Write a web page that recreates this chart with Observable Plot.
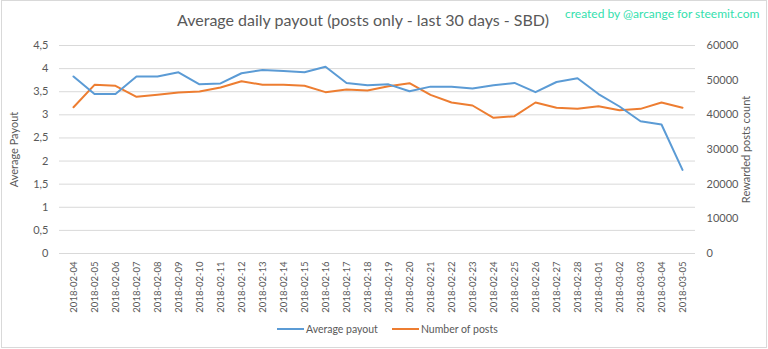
<!DOCTYPE html>
<html>
<head>
<meta charset="utf-8">
<script src="https://cdn.jsdelivr.net/npm/d3@7"></script>
<script src="https://cdn.jsdelivr.net/npm/@observablehq/plot@0.6"></script>
<style>
  html, body { margin: 0; padding: 0; background: #fff; }
  #wrap { position: relative; width: 768px; height: 349px; font-family: Lato, "Open Sans", sans-serif; color: #595959; overflow: hidden; }
  #wrap svg { position: absolute; left: 0; top: 0; }
  .frame { position: absolute; left: 1px; top: 0px; width: 764px; height: 346px; border: 1px solid #d9d9d9; pointer-events: none; }
  .title { position: absolute; left: 0; width: 726px; top: 10px; text-align: center; font-size: 16px; color: #595959; }
  .credit { position: absolute; left: 565px; top: 6px; font-size: 12px; color: #33e0ad; }
  .legend { position: absolute; top: 323px; left: 277px; font-size: 10.5px; color: #595959; display: flex; align-items: center; }
  .legend .sw { display: inline-block; width: 27px; height: 2px; margin-right: 2px; }
  .legend .item { display: flex; align-items: center; margin-right: 14px; }
</style>
</head>
<body>
<div id="wrap">
  <div class="title">Average daily payout (posts only - last 30 days - SBD)</div>
  <div class="credit">created by @arcange for steemit.com</div>
  <div class="legend">
    <span class="item"><span class="sw" style="background:#5b9bd5"></span>Average payout</span>
    <span class="item"><span class="sw" style="background:#ed7d31"></span>Number of posts</span>
  </div>
  <div class="frame"></div>
</div>
<script>
const dates = ["2018-02-04","2018-02-05","2018-02-06","2018-02-07","2018-02-08","2018-02-09","2018-02-10","2018-02-11","2018-02-12","2018-02-13","2018-02-14","2018-02-15","2018-02-16","2018-02-17","2018-02-18","2018-02-19","2018-02-20","2018-02-21","2018-02-22","2018-02-23","2018-02-24","2018-02-25","2018-02-26","2018-02-27","2018-02-28","2018-03-01","2018-03-02","2018-03-03","2018-03-04","2018-03-05"];
const avgPayout = [3.83,3.45,3.45,3.83,3.83,3.92,3.66,3.68,3.90,3.97,3.95,3.92,4.04,3.69,3.64,3.66,3.51,3.61,3.61,3.57,3.64,3.69,3.49,3.71,3.79,3.45,3.18,2.86,2.79,1.81];
const numPosts = [42200,48660,48370,45200,45770,46440,46730,47880,49710,48660,48660,48370,46540,47310,47020,48270,49130,45770,43560,42690,39140,39620,43560,42020,41730,42500,41350,41730,43560,42020];
const leftTicks = [0,0.5,1,1.5,2,2.5,3,3.5,4,4.5];
const rightTicks = [0,10000,20000,30000,40000,50000,60000];
const leftMax = 4.5, rightMax = 60000;

const toLeft = v => v * leftMax / rightMax;
const payoutData = dates.map((d, i) => ({date: d, value: avgPayout[i]}));
const postsData = dates.map((d, i) => ({date: d, value: toLeft(numPosts[i])}));

const chart = Plot.plot({
  width: 768,
  height: 349,
  marginLeft: 59,
  marginRight: 73,
  marginTop: 45,
  marginBottom: 96,
  style: {fontFamily: "Lato, 'Open Sans', sans-serif", color: "#595959", background: "transparent"},
  x: {type: "point", domain: dates, padding: 0.5},
  y: {domain: [0, leftMax]},
  marks: [
    Plot.ruleY(leftTicks, {stroke: "#d9d9d9", strokeWidth: 1}),
    Plot.axisY(leftTicks, {anchor: "left", tickSize: 0, tickPadding: 11, fontSize: 11, fill: "#595959", label: null,
      tickFormat: d => String(d).replace(".", ",")}),
    Plot.axisY(rightTicks.map(toLeft), {anchor: "right", tickSize: 0, tickPadding: 11, fontSize: 11, fill: "#595959", label: null,
      tickFormat: d => String(Math.round(d * rightMax / leftMax))}),
    Plot.axisX({tickSize: 0, tickPadding: 8, tickRotate: -90, fontSize: 9.5, fill: "#595959", label: null}),
    Plot.text(["Average Payout"], {frameAnchor: "left", textAnchor: "middle", dx: -45, rotate: -90, fontSize: 11, fill: "#595959"}),
    Plot.text(["Rewarded posts count"], {frameAnchor: "right", textAnchor: "middle", dx: 51, rotate: -90, fontSize: 11, fill: "#595959", letterSpacing: "0.9px"}),
    Plot.line(postsData, {x: "date", y: "value", stroke: "#ed7d31", strokeWidth: 2}),
    Plot.line(payoutData, {x: "date", y: "value", stroke: "#5b9bd5", strokeWidth: 2})
  ]
});
document.getElementById("wrap").prepend(chart);
</script>
</body>
</html>
